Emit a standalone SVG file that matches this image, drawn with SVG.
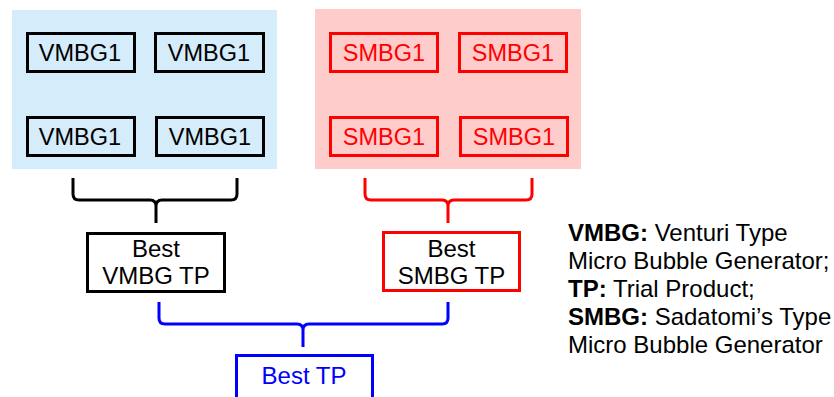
<svg xmlns="http://www.w3.org/2000/svg" width="834" height="397" viewBox="0 0 834 397">
<style>
text{font-family:"Liberation Sans",Arial,sans-serif;font-size:24px;}
.sm{font-size:23.5px;}
.box{fill:none;stroke-width:3;}
.k{stroke:#000;}
.r{stroke:#ff0000;}
.b{stroke:#0000ff;}
.tk{fill:#000;}
.tr{fill:#ff0000;}
.tb{fill:#0000ff;}
.br{fill:none;stroke-width:3;stroke-linejoin:round;}
.leg{font-size:24px;fill:#000;}
</style>
<rect x="12" y="10" width="265" height="159" fill="#d5ecfb"/>
<rect x="315" y="9" width="266" height="160" fill="#ffcccc"/>
<g id="vmbg1a"><rect class="box k" x="27.5" y="33.5" width="107" height="38"/><text class="tk sm" x="80" y="61" text-anchor="middle">VMBG1</text></g>
<g id="vmbg1b"><rect class="box k" x="155.5" y="33.5" width="108" height="38"/><text class="tk sm" x="209" y="61" text-anchor="middle">VMBG1</text></g>
<g id="vmbg1c"><rect class="box k" x="27.5" y="117.5" width="107" height="38"/><text class="tk sm" x="80" y="145" text-anchor="middle">VMBG1</text></g>
<g id="vmbg1d"><rect class="box k" x="156.5" y="117.5" width="107" height="38"/><text class="tk sm" x="210" y="145" text-anchor="middle">VMBG1</text></g>
<g id="smbg1a"><rect class="box r" x="330.5" y="33.5" width="107" height="38"/><text class="tr sm" x="384" y="61" text-anchor="middle">SMBG1</text></g>
<g id="smbg1b"><rect class="box r" x="459.5" y="33.5" width="107" height="38"/><text class="tr sm" x="513" y="61" text-anchor="middle">SMBG1</text></g>
<g id="smbg1c"><rect class="box r" x="330.5" y="117.5" width="107" height="38"/><text class="tr sm" x="384" y="145" text-anchor="middle">SMBG1</text></g>
<g id="smbg1d"><rect class="box r" x="460.5" y="117.5" width="107" height="38"/><text class="tr sm" x="514" y="145" text-anchor="middle">SMBG1</text></g>
<g id="connectors">
<path class="br k" d="M73,178 V194 Q73,200 79,200 H150 Q156,200 156,206 V223 M156,206 Q156,200 162,200 H231 Q237,200 237,194 V178"/>
<path class="br r" d="M365,178 V194 Q365,200 371,200 H442 Q448,200 448,206 V223 M448,206 Q448,200 454,200 H526 Q532,200 532,194 V178"/>
<path class="br b" d="M159,302 V318 Q159,324 165,324 H297 Q303,324 303,330 V347 M303,330 Q303,324 309,324 H442 Q448,324 448,318 V302"/>
</g>
<g id="bestvmbg"><rect class="box k" x="87.5" y="233.5" width="137" height="58"/><text class="tk" x="156" y="257" text-anchor="middle">Best</text><text class="tk" x="156" y="284" text-anchor="middle">VMBG TP</text></g>
<g id="bestsmbg"><rect class="box r" x="383.5" y="232.5" width="136" height="58"/><text class="tk" x="451.5" y="257" text-anchor="middle">Best</text><text class="tk" x="451.5" y="284" text-anchor="middle">SMBG TP</text></g>
<g id="besttp"><rect class="box b" x="236.5" y="355.5" width="136" height="50"/><text class="tb" x="304" y="384" text-anchor="middle">Best TP</text></g>
<g id="legend">
<text class="leg" x="568" y="241"><tspan font-weight="bold">VMBG:</tspan> Venturi Type</text>
<text class="leg" x="568" y="269">Micro Bubble Generator;</text>
<text class="leg" x="568" y="297"><tspan font-weight="bold">TP:</tspan> Trial Product;</text>
<text class="leg" x="568" y="325"><tspan font-weight="bold">SMBG:</tspan> Sadatomi’s Type</text>
<text class="leg" x="568" y="353">Micro Bubble Generator</text>
</g>
</svg>
